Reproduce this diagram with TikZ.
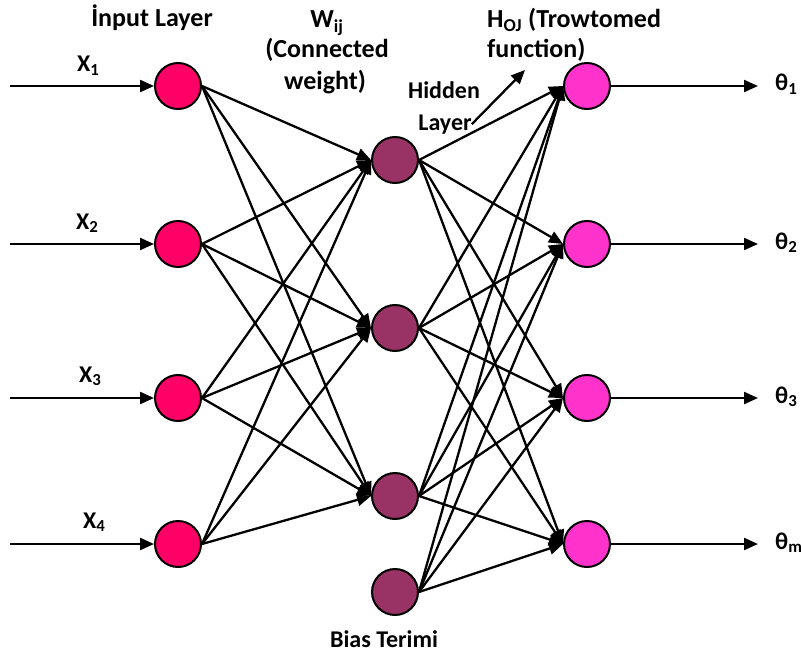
\documentclass[tikz,border=0pt]{standalone}
\usepackage{fontspec}
\setmainfont{Carlito}
\usetikzlibrary{arrows.meta}
\definecolor{incol}{HTML}{FF0066}
\definecolor{hidcol}{HTML}{993366}
\definecolor{outcol}{HTML}{FF33CC}
\begin{document}
\begin{tikzpicture}[x=1pt,y=-1pt,
  neuron/.style={circle,draw=black,line width=2pt,minimum size=46pt,inner sep=0pt},
  innode/.style={neuron,fill=incol},
  hidnode/.style={neuron,fill=hidcol},
  outnode/.style={neuron,fill=outcol},
  wire/.style={line width=2.3pt,-{Triangle[length=14pt,width=12pt]}},
  txt/.style={font=\bfseries\fontsize{24}{30}\selectfont,inner sep=0pt},
  head/.style={font=\bfseries\fontsize{26}{30}\selectfont,inner sep=0pt}]
\useasboundingbox (0,0) rectangle (801,661);

% neurons: input, output and hidden layers
\foreach \i/\y in {1/86,2/244,3/398,4/544} {
  \node[innode] (in\i) at (178,\y) {};
  \node[outnode] (out\i) at (587,\y) {};
  \coordinate (src\i) at (10,\y);
  \coordinate (dst\i) at (758,\y);
}
\foreach \j/\y in {1/160,2/328,3/496,4/592}
  \node[hidnode] (h\j) at (395,\y) {};

% weighted connections
\foreach \i in {1,...,4}
  \foreach \j in {1,2,3}
    \draw[wire] (in\i.east) -- (h\j.west);
\foreach \j in {1,...,4}
  \foreach \k in {1,...,4}
    \draw[wire] (h\j.east) -- (out\k.west);

% inputs and outputs
\foreach \i in {1,...,4} {
  \draw[wire] (src\i) -- (in\i.west);
  \draw[wire] (out\i.east) -- (dst\i);
}

% labels
\node[head,anchor=base] (inlab) at (152,27) {İnput Layer};
\node[head,anchor=base] (wlab1) at (327,28) {W\textsubscript{ij}};
\node[head,anchor=base] (wlab2) at (327,58) {(Connected};
\node[head,anchor=base] (wlab3) at (325,89) {weight)};
\node[head,anchor=base west] (hlab1) at (487,28) {H\textsubscript{OJ} (Trowtomed};
\node[head,anchor=base west] (hlab2) at (487,58) {function)};
\node[txt,anchor=base] (hid1) at (444,99) {Hidden};
\node[txt,anchor=base] (hid2) at (445,130) {Layer};
\coordinate (hidtip) at (525,70);
\draw[wire] (hid2.east) -- (hidtip);
\node[txt,anchor=base] (bias) at (384,647) {Bias Terimi};

\node[txt,anchor=base west] (x1) at (77,72) {X\textsubscript{1}};
\node[txt,anchor=base west] (x2) at (76,229) {X\textsubscript{2}};
\node[txt,anchor=base west] (x3) at (79,382) {X\textsubscript{3}};
\node[txt,anchor=base west] (x4) at (83,528) {X\textsubscript{4}};

\node[txt,anchor=base west] (t1) at (775,91) {θ\textsubscript{1}};
\node[txt,anchor=base west] (t2) at (775,249) {θ\textsubscript{2}};
\node[txt,anchor=base west] (t3) at (775,403) {θ\textsubscript{3}};
\node[txt,anchor=base west] (t4) at (775,549) {θ\textsubscript{m}};
\end{tikzpicture}
\end{document}
